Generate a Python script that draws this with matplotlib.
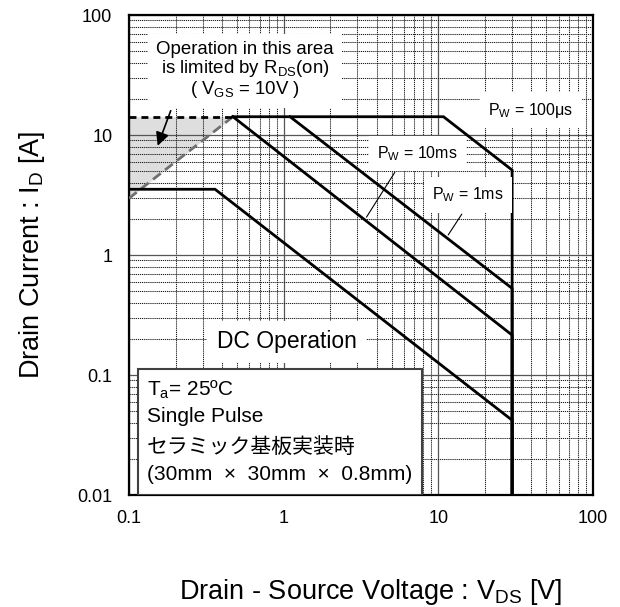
import numpy as np
import matplotlib
matplotlib.use("Agg")
import matplotlib.pyplot as plt
from matplotlib.patches import Rectangle
from matplotlib.ticker import FixedLocator, FixedFormatter, LogLocator, NullFormatter

plt.rcParams['font.family'] = ['Liberation Sans', 'Noto Sans CJK JP']
plt.rcParams['mathtext.default'] = 'regular'

# safe operating area curves (V_DS [V], I_D [A])
dc_v = [0.1, 0.36, 30, 30]
dc_i = [3.53, 3.53, 0.042, 0.01]
pw10ms_v = [0.47, 30, 30]
pw10ms_i = [14.2, 0.215, 0.01]
pw1ms_v = [1.1, 30, 30]
pw1ms_i = [14.2, 0.527, 0.01]
pw100us_v = [0.47, 10.8, 30, 30]
pw100us_i = [14.2, 14.2, 5.1, 0.01]
# R_DS(on) limited area
rds_v = [0.1, 0.47]
rds_i = [2.97, 14.2]
imax_v = [0.1, 0.47]
imax_i = [14.2, 14.2]

x_ticks = [0.1, 1, 10, 100]
x_labels = ["0.1", "1", "10", "100"]
y_ticks = [0.01, 0.1, 1, 10, 100]
y_labels = ["0.01", "0.1", "1", "10", "100"]

fig = plt.figure(figsize=(6.2, 6.07), dpi=100)
ax = fig.add_axes([129 / 620, 1 - 495 / 607, 464 / 620, 480 / 607])
ax.set_xscale('log')
ax.set_yscale('log')
ax.set_xlim(0.1, 100)
ax.set_ylim(0.01, 100)

ax.xaxis.set_major_locator(FixedLocator(x_ticks))
ax.xaxis.set_major_formatter(FixedFormatter(x_labels))
ax.yaxis.set_major_locator(FixedLocator(y_ticks))
ax.yaxis.set_major_formatter(FixedFormatter(y_labels))
ax.xaxis.set_minor_locator(LogLocator(base=10, subs=np.arange(2, 10)))
ax.yaxis.set_minor_locator(LogLocator(base=10, subs=np.arange(2, 10)))
ax.xaxis.set_minor_formatter(NullFormatter())
ax.yaxis.set_minor_formatter(NullFormatter())
ax.tick_params(which='both', length=0, labelsize=13)
ax.tick_params(axis='x', pad=11)
ax.tick_params(axis='y', pad=12)

ax.grid(which='major', color='#555555', lw=0.9, ls='-')
ax.grid(which='minor', color='#222222', lw=0.75, ls=(0, (1.2, 0.8)))
for s in ax.spines.values():
    s.set_linewidth(1.6)

# shaded area limited by R_DS(on)
ax.fill_between(rds_v, rds_i, imax_i, color='#dedede', lw=0, zorder=1)
ax.plot(rds_v, rds_i, color='#707070', lw=2.0, ls=(0, (3.5, 2)), zorder=4)
ax.plot(imax_v, imax_i, color='black', lw=2.0, ls=(0, (2.5, 1.8)), zorder=4)

for v, i in [(dc_v, dc_i), (pw10ms_v, pw10ms_i), (pw1ms_v, pw1ms_i), (pw100us_v, pw100us_i)]:
    ax.plot(v, i, color='black', lw=2.0, solid_joinstyle='miter', zorder=4)

ax.text(0.25, 0.885, "Operation in this area\nis limited by R$_{DS}$(on)\n( V$_{GS}$ = 10V )",
        transform=ax.transAxes, ha='center', va='center', fontsize=13.4, linespacing=1.0,
        bbox=dict(facecolor='white', edgecolor='none', pad=6), zorder=5)
ax.annotate("", xy=(0.0597, 0.722), xytext=(0.092, 0.806), xycoords='axes fraction',
            arrowprops=dict(arrowstyle='-|>', color='black', lw=1.2, mutation_scale=20), zorder=6)

ax.text(0.34, 0.319, "DC Operation", transform=ax.transAxes, ha='center', va='center',
        fontsize=16.5, bbox=dict(facecolor='white', edgecolor='none', pad=7), zorder=5)

ax.text(0.866, 0.802, "P$_{W}$ = 100μs", transform=ax.transAxes, ha='center', va='center',
        fontsize=11.5, bbox=dict(facecolor='white', edgecolor='none', pad=6), zorder=5)
ax.text(0.621, 0.712, "P$_{W}$ = 10ms", transform=ax.transAxes, ha='center', va='center',
        fontsize=11.5, bbox=dict(facecolor='white', edgecolor='none', pad=6), zorder=5)
ax.text(0.73, 0.625, "P$_{W}$ = 1ms", transform=ax.transAxes, ha='center', va='center',
        fontsize=11.5, bbox=dict(facecolor='white', edgecolor='none', pad=6), zorder=5)
ax.annotate("", xy=(0.5086, 0.574), xytext=(0.576, 0.677), xycoords='axes fraction',
            arrowprops=dict(arrowstyle='-', color='black', lw=0.8), zorder=6)
ax.annotate("", xy=(0.6847, 0.537), xytext=(0.7205, 0.590), xycoords='axes fraction',
            arrowprops=dict(arrowstyle='-', color='black', lw=0.8), zorder=6)

# condition box
ax.add_patch(Rectangle((0.019, 0.0), 0.612, 0.2625, transform=ax.transAxes,
                       facecolor='white', edgecolor='#404040', lw=1.5, zorder=5))
cond = ["T$_{a}$= 25ºC", "Single Pulse", "セラミック基板実装時", "(30mm  ×  30mm  ×  0.8mm)"]
for txt, yy in zip(cond, [0.219, 0.1625, 0.1, 0.042]):
    ax.text(0.039, yy, txt, transform=ax.transAxes, ha='left', va='center',
            fontsize=15, zorder=6)

ax.set_xlabel("Drain - Source Voltage : V$_{DS}$ [V]", fontsize=19.5)
ax.xaxis.set_label_coords(0.5216, -0.171)
ax.set_ylabel("Drain Current : I$_{D}$ [A]", fontsize=19.5, labelpad=22)

fig.savefig("out.png", dpi=100)
